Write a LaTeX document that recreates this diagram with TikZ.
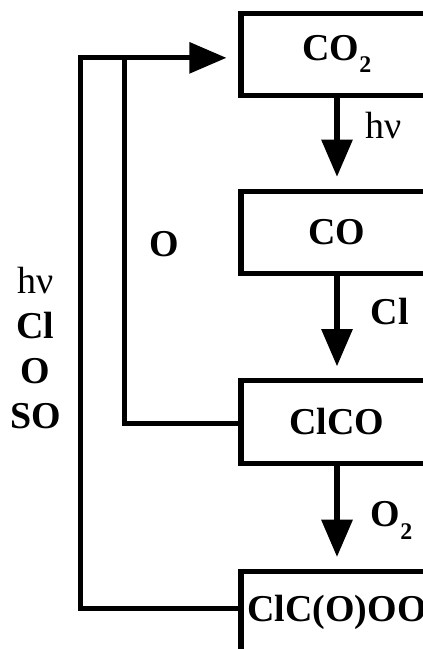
\documentclass[tikz,border=0pt]{standalone}
\usepackage{fontspec}
\setmainfont{Liberation Serif}
\usepackage{tikz}
\usetikzlibrary{
  arrows.meta,
  positioning
}
\newcommand{\chemsub}[1]{\raisebox{-0.32em}{\fontsize{17}{17}\selectfont #1}}

\begin{document}
\begin{tikzpicture}[
  species/.style={draw, line width=3.6pt, minimum width=4.8cm, minimum height=2.06cm, inner sep=0pt, font=\fontsize{27}{32}\selectfont\bfseries},
  flow/.style={line width=3.6pt, -{Triangle[length=0.93cm, width=0.76cm]}, shorten >=0.3cm},
  feedback/.style={line width=3.6pt},
  agent/.style={inner sep=0pt, font=\fontsize{27}{32}\selectfont}
]
  \useasboundingbox (0,0) rectangle (10.575,-16.225);
  \clip (0,0) rectangle (10.575,-16.225);

  % species boxes
  \node[species] (co2) at (8.425,-1.356) {CO\chemsub{2}};
  \node[species, below=2.27cm of co2] (co) {CO};
  \node[species, below=2.55cm of co] (clco) {ClCO};
  \node[species, below=2.58cm of clco] (peroxy) {ClC(O)OO};

  % main chain
  \draw[flow] (co2) -- (co) node[agent, midway, right=0.66cm, yshift=0.45cm] {hν};
  \draw[flow] (co) -- (clco) node[agent, midway, right=0.78cm, yshift=0.39cm] {\bfseries Cl};
  \draw[flow] (clco) -- (peroxy) node[agent, midway, right=0.78cm, yshift=-0.08cm] {\bfseries O\chemsub{2}};

  % return paths
  \draw[feedback] ([yshift=-0.05cm]clco.west) -| node[agent, pos=0.745, right=0.55cm] {\bfseries O} ([xshift=-2.84cm, yshift=-0.09cm]co2.west);
  \draw[flow] ([yshift=0.11cm]peroxy.west) -| node[agent, pos=0.736, left=0.42cm, align=center] {hν\\ \textbf{Cl}\\ \textbf{O}\\ \textbf{SO}} ([xshift=-3.96cm, yshift=-0.09cm]co2.west) -- ([yshift=-0.09cm]co2.west);
\end{tikzpicture}
\end{document}
